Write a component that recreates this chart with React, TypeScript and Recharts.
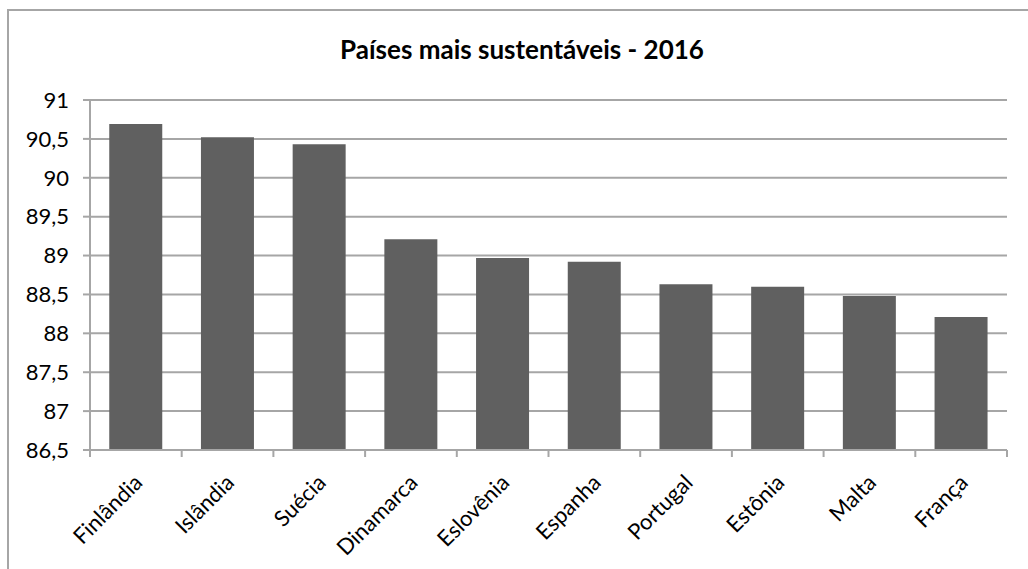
import { BarChart, Bar, XAxis, YAxis, CartesianGrid } from "recharts";

const countries = [
  "Finlândia",
  "Islândia",
  "Suécia",
  "Dinamarca",
  "Eslovênia",
  "Espanha",
  "Portugal",
  "Estônia",
  "Malta",
  "França",
];

const scores = [90.69, 90.52, 90.43, 89.21, 88.97, 88.92, 88.63, 88.6, 88.48, 88.21];

const yTicks = [86.5, 87, 87.5, 88, 88.5, 89, 89.5, 90, 90.5, 91];

const data = countries.map((name, i) => ({ name, value: scores[i] }));

const GRAY = "#a6a6a6";
const FONT = "Lato, 'Open Sans', sans-serif";
const PLOT_LEFT = 90;
const PLOT_RIGHT = 1007;
const BAND = (PLOT_RIGHT - PLOT_LEFT) / countries.length;

function CountryTick(props: any) {
  const { x, y, payload, index } = props;
  const left = x - BAND / 2;
  const ax = x + 8;
  const ay = y + 26;
  return (
    <g>
      <line x1={left} y1={y - 8} x2={left} y2={y - 1} stroke={GRAY} strokeWidth={2} />
      {index === countries.length - 1 && (
        <line x1={x + BAND / 2} y1={y - 8} x2={x + BAND / 2} y2={y - 1} stroke={GRAY} strokeWidth={2} />
      )}
      <text
        x={ax}
        y={ay}
        textAnchor="end"
        fontSize={22}
        fontFamily={FONT}
        fill="#000"
        transform={`rotate(-45, ${ax}, ${ay})`}
      >
        {payload.value}
      </text>
    </g>
  );
}

export default function App() {
  return (
    <div
      style={{
        position: "absolute",
        left: 0,
        top: 0,
        width: 1028,
        height: 569,
        background: "#fff",
        overflow: "hidden",
      }}
    >
      <div
        style={{
          position: "absolute",
          left: 7,
          top: 9,
          width: 1040,
          height: 600,
          borderLeft: `2px solid ${GRAY}`,
          borderTop: `2px solid ${GRAY}`,
        }}
      />
      <div
        style={{
          position: "absolute",
          left: 0,
          top: 33,
          width: 1044,
          textAlign: "center",
          fontFamily: FONT,
          fontWeight: 700,
          fontSize: 26,
          color: "#000",
        }}
      >
        Países mais sustentáveis - 2016
      </div>
      <div style={{ position: "absolute", left: 0, top: 0 }}>
        <BarChart
          width={1028}
          height={569}
          data={data}
          margin={{ top: 100, right: 1028 - PLOT_RIGHT, left: 0, bottom: 0 }}
          barCategoryGap="21%"
        >
          <CartesianGrid vertical={false} stroke={GRAY} strokeWidth={2} />
          <XAxis
            dataKey="name"
            height={119}
            interval={0}
            axisLine={{ stroke: GRAY, strokeWidth: 2 }}
            tickLine={false}
            tick={<CountryTick />}
          />
          <YAxis
            width={PLOT_LEFT}
            domain={[86.5, 91]}
            ticks={yTicks}
            interval={0}
            allowDataOverflow
            axisLine={{ stroke: GRAY, strokeWidth: 2 }}
            tickLine={{ stroke: GRAY, strokeWidth: 2 }}
            tickSize={7}
            tickMargin={14}
            tickFormatter={(v: number) => String(v).replace(".", ",")}
            tick={{ fontSize: 22, fontFamily: FONT, fill: "#000" }}
          />
          <Bar dataKey="value" fill="#606060" isAnimationActive={false} />
        </BarChart>
      </div>
    </div>
  );
}
